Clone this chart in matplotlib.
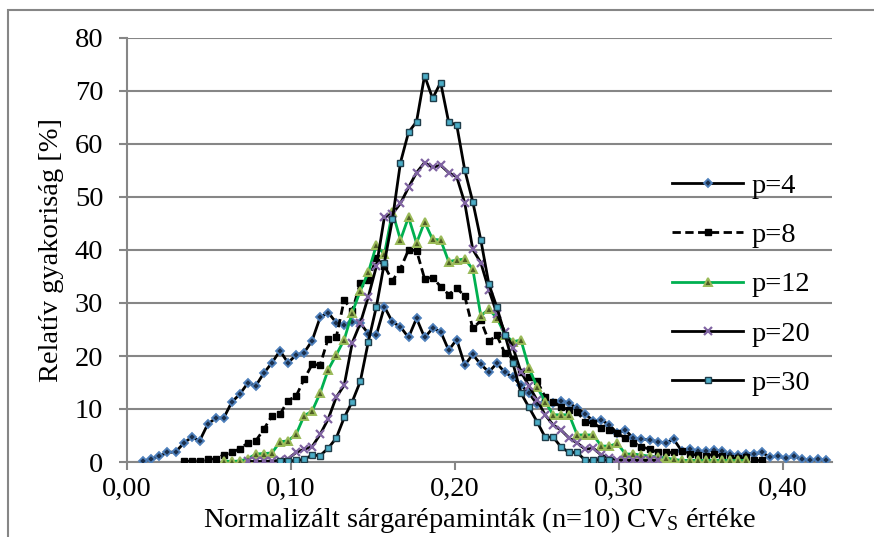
import numpy as np
import matplotlib
matplotlib.use("Agg")
import matplotlib.pyplot as plt
from matplotlib.ticker import FuncFormatter
from matplotlib.patches import Rectangle

plt.rcParams['font.family'] = ['Liberation Serif', 'DejaVu Serif']
plt.rcParams['mathtext.default'] = 'regular'

# common x grid (bin positions of normalized CV_S)
x_grid = np.round(0.01 + 0.0049 * np.arange(86), 4)

# series: start index in grid + values (relative frequency, %)
p4_start = 0
p4 = [0.1, 0.6, 1.1, 1.8, 1.9, 3.5, 4.7, 4.0, 7.1, 8.3, 8.3, 11.3, 12.8, 14.9, 14.4, 16.8,
      18.7, 21.0, 18.7, 20.2, 20.6, 22.9, 27.3, 28.2, 26.3, 25.8, 26.5, 26.2, 24.2, 24.0,
      29.3, 26.4, 25.5, 23.5, 27.1, 23.5, 25.2, 24.6, 21.1, 23.1, 18.3, 20.3, 18.4, 17.0,
      18.6, 16.9, 16.0, 14.5, 13.0, 10.9, 11.4, 11.2, 11.5, 11.1, 10.1, 9.1, 7.7, 7.9, 7.0,
      5.4, 6.0, 4.5, 4.3, 4.2, 3.8, 3.6, 4.3, 2.1, 2.4, 2.0, 2.0, 2.3, 2.0, 1.5, 1.3, 1.6,
      1.5, 1.8, 0.9, 1.1, 0.7, 1.1, 0.5, 0.3, 0.5, 0.3]

p8_start = 5
p8 = [0.1, 0.2, 0.2, 0.6, 0.5, 1.4, 1.8, 2.5, 3.6, 4.0, 6.2, 8.7, 9.0, 11.6, 12.4, 15.6,
      18.4, 18.3, 23.3, 23.5, 30.6, 28.5, 33.8, 34.3, 38.4, 37.0, 34.2, 36.5, 40.0, 39.9,
      34.6, 34.8, 33.1, 31.6, 32.8, 31.3, 25.2, 26.7, 22.8, 23.9, 20.5, 19.5, 17.0, 16.0,
      15.3, 12.3, 11.4, 10.4, 9.8, 9.4, 7.6, 7.3, 6.4, 6.0, 5.4, 4.5, 3.6, 2.9, 2.4, 1.9,
      1.8, 1.8, 2.1, 1.5, 1.3, 1.1, 1.5, 1.1, 0.7, 0.7, 0.9, 0.3, 0.3]

p12_start = 10
p12 = [0.2, 0.1, 0.2, 0.6, 1.5, 1.6, 1.7, 3.8, 4.0, 5.2, 8.7, 9.6, 13.0, 17.4, 20.2, 23.1,
       28.2, 32.3, 35.8, 40.9, 39.2, 47.2, 41.9, 46.2, 41.3, 45.3, 42.0, 41.9, 37.8, 38.1,
       38.3, 36.4, 27.6, 28.8, 27.2, 24.0, 22.7, 23.0, 17.7, 14.2, 11.4, 8.9, 8.9, 8.9,
       5.1, 5.1, 5.1, 3.0, 3.0, 3.5, 1.5, 1.5, 1.3, 1.1, 1.0, 0.8, 0.5, 0.3, 0.3, 0.3, 0.3,
       0.3, 0.3, 0.3, 0.3, 0.3]

p20_start = 13
p20 = [0.1, 0.1, 0.1, 0.2, 0.3, 0.6, 1.8, 2.4, 2.9, 5.2, 8.1, 12.2, 14.5, 22.5, 26.2, 31.2,
       36.9, 46.2, 46.8, 48.8, 51.8, 54.6, 56.5, 55.6, 56.0, 54.6, 53.8, 48.9, 40.1, 37.6,
       32.5, 28.0, 24.5, 21.6, 17.0, 14.3, 11.7, 8.9, 7.0, 6.0, 4.5, 3.6, 2.4, 2.6, 1.3,
       0.7, 0.4, 0.3, 0.3, 0.3, 0.3, 0.3]

p30_start = 17
p30 = [0.2, 0.2, 0.3, 0.5, 1.3, 1.2, 2.6, 4.5, 8.4, 11.4, 15.2, 22.7, 29.3, 37.6, 45.8, 56.5,
       62.2, 64.2, 72.9, 68.6, 71.6, 64.1, 63.6, 55.1, 49.1, 41.9, 33.6, 29.2, 24.0, 18.6,
       13.0, 10.3, 7.6, 4.7, 4.7, 2.8, 1.8, 1.8, 0.3, 0.3, 0.5, 0.3]

labels = ['p=4', 'p=8', 'p=12', 'p=20', 'p=30']
x_ticks = [0.0, 0.1, 0.2, 0.3, 0.4]
y_ticks = [0, 10, 20, 30, 40, 50, 60, 70, 80]

FS = 20.5
W, H = 874, 537
fig = plt.figure(figsize=(W / 100, H / 100), dpi=100)
ax = fig.add_axes([127 / W, 1 - 462 / H, (832 - 127) / W, (462 - 38) / H])

def xs(start, vals):
    return x_grid[start:start + len(vals)]

grid_c = '#868686'
ax.plot(xs(p4_start, p4), p4, color='black', lw=2.0, marker='D', ms=3.8,
        mfc='#1c2f4a', mec='#4f81bd', mew=1.3, label=labels[0], zorder=3)
ax.plot(xs(p8_start, p8), p8, color='black', lw=2.0, ls=(0, (3, 1.6)), marker='s', ms=5,
        mfc='black', mec='black', label=labels[1], zorder=3)
ax.plot(xs(p12_start, p12), p12, color='#00b050', lw=2.0, marker='^', ms=5.5,
        mfc='#4e5d26', mec='#9bbb59', mew=1.4, label=labels[2], zorder=3)
ax.plot(xs(p20_start, p20), p20, color='black', lw=2.0, marker='x', ms=6,
        mec='#8064a2', mew=1.6, label=labels[3], zorder=3)
ax.plot(xs(p30_start, p30), p30, color='black', lw=2.0, marker='s', ms=5,
        mfc='#4bacc6', mec='#1f3d4a', mew=1.0, label=labels[4], zorder=3)

ax.set_xlim(0, 0.43)
ax.set_ylim(0, 80)
ax.set_xticks(x_ticks)
ax.set_yticks(y_ticks)
ax.xaxis.set_major_formatter(FuncFormatter(lambda v, p: f"{v:.2f}".replace('.', ',')))
ax.yaxis.grid(True, color=grid_c, lw=1.5)
ax.set_axisbelow(True)
for s in ['top', 'right']:
    ax.spines[s].set_visible(False)
for s in ['left', 'bottom']:
    ax.spines[s].set_color(grid_c)
    ax.spines[s].set_linewidth(1.5)
ax.tick_params(axis='both', colors=grid_c, labelcolor='black', labelsize=FS,
               length=6, width=1.5, direction='out')
ax.tick_params(axis='y', pad=11)
ax.tick_params(axis='x', pad=5)

ax.set_ylabel('Relatív gyakoriság [%]', fontsize=FS, labelpad=8)
ax.set_xlabel('Normalizált sárgarépaminták (n=10) CV$_S$ értéke', fontsize=FS, labelpad=2)

leg = ax.legend(loc='upper left', bbox_to_anchor=(672 / W, 1 - 173 / H),
                bbox_transform=fig.transFigure, frameon=False, fontsize=FS,
                handlelength=2.5, handletextpad=0.3, labelspacing=0.82,
                borderpad=0, borderaxespad=0, numpoints=1)

fig.patches.append(Rectangle((8 / W, -0.1), 1.2, 1 - 10 / H + 0.1, transform=fig.transFigure,
                             fill=False, edgecolor='#868686', lw=1.5))

fig.savefig('out.png', dpi=100)
